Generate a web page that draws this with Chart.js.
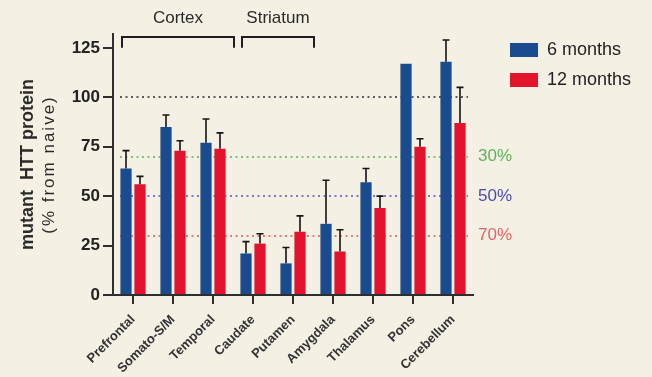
<!DOCTYPE html>
<html>
<head>
<meta charset="utf-8">
<script src="https://cdn.jsdelivr.net/npm/chart.js@4"></script>
<style>
  html, body { margin: 0; padding: 0; background: #f4f0e4; }
  #wrap { width: 652px; height: 377px; position: relative; }
</style>
</head>
<body>
<div id="wrap"><canvas id="chart" width="652" height="377"></canvas></div>
<script>
// Brain regions and mutant HTT protein levels (% of naive)
const regions = ['Prefrontal', 'Somato-S/M', 'Temporal', 'Caudate', 'Putamen', 'Amygdala', 'Thalamus', 'Pons', 'Cerebellum'];
const sixMonths = [64, 85, 77, 21, 16, 36, 57, 117, 118];
const sixMonthsErr = [9, 6, 12, 6, 8, 22, 7, 0, 11];
const twelveMonths = [56, 73, 74, 26, 32, 22, 44, 75, 87];
const twelveMonthsErr = [4, 5, 8, 5, 8, 11, 6, 4, 18];
const seriesNames = ['6 months', '12 months'];
const seriesColors = ['#1b4b8f', '#e3132e'];

const yTicks = [0, 25, 50, 75, 100, 125];
const yMax = 132;

// reference levels: naive level and knock-down thresholds
const refLevels = [100, 70, 50, 30];
const refLabels = ['', '30%', '50%', '70%'];
const refLineColors = ['#5c5c5c', '#7cc27a', '#7b7bd0', '#df8080'];
const refTextColors = ['#5c5c5c', '#5eb35a', '#4c4cae', '#e06464'];

// anatomical groupings shown as brackets above the bars
const groupNames = ['Cortex', 'Striatum'];
const groupFirst = [0, 3];
const groupLast = [2, 4];

const errorSets = [sixMonthsErr, twelveMonthsErr];

const refLinesPlugin = {
  id: 'refLines',
  beforeDatasetsDraw(chart) {
    const { ctx, chartArea, scales: { y } } = chart;
    ctx.save();
    ctx.lineWidth = 2;
    ctx.setLineDash([2, 3.5]);
    refLevels.forEach((lvl, i) => {
      const py = Math.round(y.getPixelForValue(lvl));
      ctx.strokeStyle = refLineColors[i];
      ctx.beginPath();
      ctx.moveTo(chartArea.left + 7, py);
      ctx.lineTo(chartArea.right - 5, py);
      ctx.stroke();
    });
    ctx.setLineDash([]);
    ctx.font = '17px "Liberation Sans", Arial, sans-serif';
    ctx.textBaseline = 'middle';
    ctx.textAlign = 'left';
    refLevels.forEach((lvl, i) => {
      if (!refLabels[i]) return;
      ctx.fillStyle = refTextColors[i];
      ctx.fillText(refLabels[i], chartArea.right + 5, y.getPixelForValue(lvl));
    });
    ctx.restore();
  }
};

const errorBarsPlugin = {
  id: 'errorBars',
  afterDatasetsDraw(chart) {
    const { ctx, scales: { y } } = chart;
    ctx.save();
    ctx.strokeStyle = '#151515';
    ctx.lineWidth = 1.6;
    chart.data.datasets.forEach((ds, di) => {
      const meta = chart.getDatasetMeta(di);
      meta.data.forEach((bar, i) => {
        const err = errorSets[di][i];
        if (!err) return;
        const yTop = y.getPixelForValue(ds.data[i] + err);
        ctx.beginPath();
        ctx.moveTo(bar.x, bar.y);
        ctx.lineTo(bar.x, yTop);
        ctx.moveTo(bar.x - 3.5, yTop);
        ctx.lineTo(bar.x + 3.5, yTop);
        ctx.stroke();
      });
    });
    ctx.restore();
  }
};

const decorPlugin = {
  id: 'decor',
  afterDraw(chart) {
    const { ctx, chartArea, scales: { x, y } } = chart;
    const half = (x.getPixelForValue(1) - x.getPixelForValue(0)) / 2;
    ctx.save();

    // group brackets
    ctx.strokeStyle = '#1e1e1e';
    ctx.lineWidth = 2;
    ctx.fillStyle = '#2a2a2a';
    ctx.font = '17px "Liberation Sans", Arial, sans-serif';
    ctx.textAlign = 'center';
    ctx.textBaseline = 'middle';
    const top = chartArea.top + 3;
    const foot = y.getPixelForValue(125);
    groupNames.forEach((name, g) => {
      const x1 = x.getPixelForValue(groupFirst[g]) - half + 9;
      const x2 = x.getPixelForValue(groupLast[g]) + half + 1;
      ctx.beginPath();
      ctx.moveTo(x1, foot);
      ctx.lineTo(x1, top);
      ctx.lineTo(x2, top);
      ctx.lineTo(x2, foot);
      ctx.stroke();
      ctx.fillText(name, (x1 + x2) / 2, 18);
    });

    // legend
    ctx.textAlign = 'left';
    ctx.font = '18px "Liberation Sans", Arial, sans-serif';
    chart.data.datasets.forEach((ds, i) => {
      const ly = 50 + i * 30;
      ctx.fillStyle = ds.backgroundColor;
      ctx.fillRect(510, ly - 7, 28, 14);
      ctx.fillStyle = '#222';
      ctx.fillText(ds.label, 547, ly);
    });

    // y-axis title
    const cy = (chartArea.top + chartArea.bottom) / 2;
    ctx.translate(28, cy);
    ctx.rotate(-Math.PI / 2);
    ctx.textAlign = 'center';
    ctx.fillStyle = '#2a2a2a';
    ctx.font = 'bold 18px "Liberation Sans", Arial, sans-serif';
    ctx.fillText('mutant  HTT protein', 0, 0);
    ctx.font = '17px "Liberation Sans", Arial, sans-serif';
    ctx.letterSpacing = '2px';
    ctx.fillText('(% from naive)', 0, 21);
    ctx.restore();
  }
};

new Chart(document.getElementById('chart'), {
  type: 'bar',
  data: {
    labels: regions,
    datasets: [
      { label: seriesNames[0], data: sixMonths, backgroundColor: seriesColors[0] },
      { label: seriesNames[1], data: twelveMonths, backgroundColor: seriesColors[1] }
    ]
  },
  options: {
    responsive: false,
    animation: false,
    devicePixelRatio: 1,
    layout: { padding: { left: 0, top: 34, right: 179, bottom: 0 } },
    datasets: { bar: { categoryPercentage: 0.7, barPercentage: 0.8 } },
    plugins: { legend: { display: false }, tooltip: { enabled: false } },
    scales: {
      x: {
        afterFit(scale) { scale.height = 82; },
        grid: { display: true, offset: false, drawOnChartArea: false, drawTicks: true, tickLength: 9, color: '#2e2e2e', lineWidth: 2 },
        border: { display: true, color: '#2e2e2e', width: 2 },
        ticks: {
          autoSkip: false, maxRotation: 45, minRotation: 45, padding: 8,
          color: '#333', font: { family: '"Liberation Sans", Arial, sans-serif', size: 13, weight: 'bold' }
        }
      },
      y: {
        min: 0, max: yMax,
        afterFit(scale) { scale.width = 113; },
        afterBuildTicks(scale) { scale.ticks = yTicks.map(v => ({ value: v })); },
        grid: { display: true, drawOnChartArea: false, drawTicks: true, tickLength: 10, color: '#2e2e2e', lineWidth: 2 },
        border: { display: true, color: '#2e2e2e', width: 2 },
        ticks: {
          padding: 3, color: '#222',
          font: { family: '"Liberation Sans", Arial, sans-serif', size: 17, weight: 'bold' }
        }
      }
    }
  },
  plugins: [refLinesPlugin, errorBarsPlugin, decorPlugin]
});
</script>
</body>
</html>
